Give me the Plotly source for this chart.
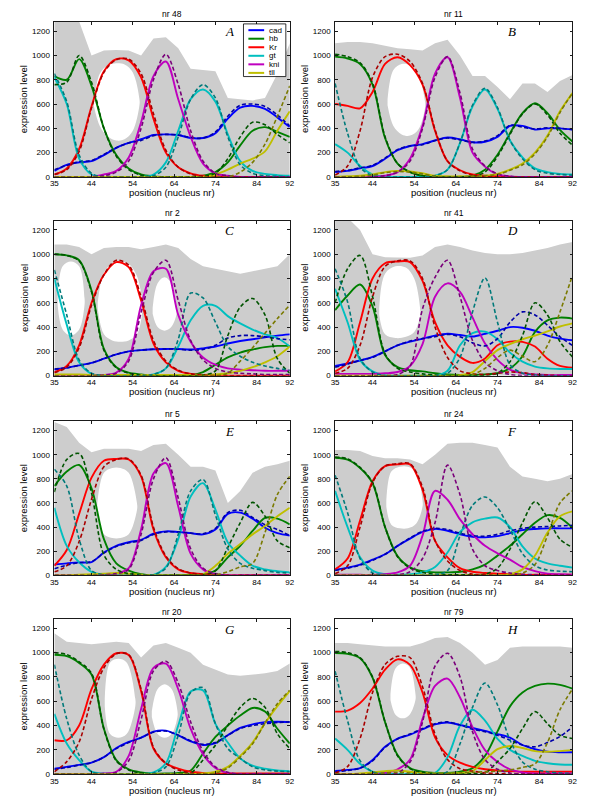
import plotly.graph_objects as go

W, H = 600, 796

# ---------------- shared axes data ----------------
X = [35, 38, 41, 44, 47, 50, 53, 56, 59, 62, 65, 68, 71, 74, 77, 80, 83, 86, 89, 92]
XTICKS = [35, 44, 54, 64, 74, 84, 92]
YTICKS = [0, 200, 400, 600, 800, 1000, 1200]
GENES = ["cad", "hb", "Kr", "gt", "kni", "tll"]
TITLES = ["nr 48", "nr 11", "nr 2", "nr 41", "nr 5", "nr 24", "nr 20", "nr 79"]
LETTERS = ["A", "B", "C", "D", "E", "F", "G", "H"]

# ---------------- panel A (nr 48) ----------------
A_cad = [50, 100, 120, 130, 180, 240, 280, 310, 345, 350, 345, 320, 320, 360, 480, 570, 585, 560, 490, 410]
A_cad_d = [60, 95, 125, 135, 185, 240, 280, 300, 340, 350, 345, 325, 320, 370, 500, 590, 600, 580, 510, 420]
A_hb = [830, 800, 970, 750, 400, 180, 70, 20, 5, 0, 0, 0, 10, 40, 120, 260, 380, 410, 370, 330]
A_hb_d = [760, 780, 1000, 780, 400, 170, 60, 15, 0, 0, 0, 0, 5, 30, 150, 330, 450, 430, 350, 280]
A_Kr = [20, 70, 230, 580, 870, 970, 960, 820, 480, 200, 80, 30, 10, 5, 0, 0, 0, 0, 0, 0]
A_Kr_d = [20, 60, 210, 570, 860, 965, 970, 850, 520, 220, 80, 25, 5, 0, 0, 0, 0, 0, 0, 0]
A_gt = [820, 600, 150, 20, 0, 0, 0, 0, 20, 120, 380, 640, 720, 620, 350, 130, 50, 25, 15, 10]
A_gt_d = [850, 620, 180, 30, 0, 0, 0, 0, 10, 80, 330, 640, 760, 650, 330, 100, 30, 10, 5, 0]
A_kni = [0, 0, 0, 0, 20, 50, 160, 450, 830, 950, 640, 330, 110, 30, 10, 0, 0, 0, 0, 0]
A_kni_d = [0, 0, 0, 0, 10, 40, 130, 400, 800, 1010, 760, 380, 130, 30, 10, 0, 0, 0, 0, 0]
A_tll = [0, 0, 0, 0, 0, 0, 0, 0, 0, 0, 0, 0, 0, 20, 60, 110, 150, 210, 380, 540]
A_tll_d = [0, 0, 0, 0, 0, 0, 0, 0, 0, 0, 0, 0, 0, 0, 0, 40, 120, 270, 500, 750]
ENV_A = [1300, 1300, 1280, 1000, 1040, 1045, 1040, 1000, 1140, 1150, 1060, 890, 880, 870, 650, 640, 630, 650, 850, 1100]
HOLE_A1_X = [44.6, 46, 48, 50, 52, 54, 55.6]
HOLE_A1_HI = [620, 850, 920, 935, 925, 860, 640]
HOLE_A1_LO = [580, 420, 330, 300, 310, 380, 590]

# ---------------- panel B (nr 11) ----------------
B_cad = [40, 50, 70, 90, 150, 220, 255, 270, 300, 325, 310, 285, 290, 330, 420, 420, 390, 400, 400, 390]
B_cad_d = [45, 55, 75, 95, 155, 225, 255, 265, 300, 320, 305, 285, 295, 340, 425, 410, 395, 405, 400, 390]
B_hb = [990, 975, 930, 760, 320, 110, 40, 10, 0, 0, 0, 10, 60, 183, 360, 525, 606, 525, 388, 292]
B_hb_d = [1010, 990, 940, 770, 330, 110, 40, 10, 0, 0, 0, 5, 40, 170, 350, 520, 600, 510, 360, 262]
B_Kr = [600, 585, 565, 700, 930, 985, 920, 760, 380, 130, 55, 20, 10, 5, 0, 0, 0, 0, 0, 0]
B_Kr_d = [15, 90, 380, 820, 990, 1010, 950, 770, 390, 130, 50, 15, 5, 0, 0, 0, 0, 0, 0, 0]
B_gt = [270, 200, 90, 20, 0, 0, 0, 0, 10, 60, 280, 580, 720, 560, 300, 160, 70, 40, 25, 20]
B_gt_d = [770, 360, 80, 10, 0, 0, 0, 0, 10, 60, 280, 590, 730, 570, 300, 150, 60, 30, 20, 15]
B_kni = [0, 0, 0, 0, 10, 40, 150, 420, 850, 985, 650, 200, 85, 20, 5, 0, 0, 0, 0, 0]
B_kni_d = [0, 0, 0, 0, 10, 40, 130, 400, 820, 990, 690, 230, 90, 25, 5, 0, 0, 0, 0, 0]
B_tll = [0, 5, 10, 20, 40, 50, 45, 30, 10, 5, 5, 5, 10, 25, 60, 110, 200, 340, 540, 690]
B_tll_d = [0, 0, 5, 15, 35, 45, 40, 25, 5, 0, 0, 5, 10, 20, 55, 100, 190, 330, 530, 690]
ENV_B = [1100, 1110, 1110, 1100, 1080, 1060, 1050, 1040, 1100, 1130, 1000, 830, 830, 740, 640, 770, 770, 700, 790, 840]
HOLE_B1_X = [47.6, 49, 51, 53, 55, 56.6]
HOLE_B1_HI = [640, 880, 930, 920, 840, 620]
HOLE_B1_LO = [590, 420, 350, 340, 390, 570]

# ---------------- panel C (nr 2) ----------------
C_cad = [50, 65, 85, 105, 140, 175, 200, 210, 218, 220, 220, 215, 225, 240, 265, 285, 300, 315, 330, 340]
C_cad_d = [55, 65, 85, 105, 140, 175, 200, 210, 218, 220, 218, 210, 215, 250, 310, 330, 330, 320, 305, 295]
C_hb = [1000, 990, 950, 700, 220, 70, 25, 10, 0, 0, 0, 5, 30, 90, 150, 190, 215, 235, 245, 245]
C_hb_d = [1000, 990, 945, 690, 210, 65, 20, 5, 0, 0, 0, 0, 5, 40, 330, 565, 635, 500, 140, 20]
C_Kr = [30, 80, 250, 600, 830, 935, 893, 620, 265, 110, 40, 15, 5, 5, 0, 0, 0, 0, 0, 0]
C_Kr_d = [25, 70, 230, 580, 830, 950, 910, 650, 290, 120, 45, 15, 5, 0, 0, 0, 0, 0, 0, 0]
C_gt = [800, 420, 110, 15, 0, 0, 0, 0, 10, 60, 240, 456, 575, 575, 490, 430, 380, 340, 310, 240]
C_gt_d = [870, 500, 130, 20, 0, 0, 0, 0, 10, 60, 300, 680, 640, 440, 240, 160, 110, 80, 60, 45]
C_kni = [0, 0, 0, 0, 5, 25, 140, 580, 860, 880, 500, 280, 150, 90, 60, 50, 45, 40, 40, 40]
C_kni_d = [0, 0, 0, 0, 5, 20, 120, 520, 850, 950, 620, 290, 130, 60, 30, 20, 15, 10, 10, 10]
C_tll = [10, 10, 10, 5, 5, 5, 5, 5, 5, 5, 5, 5, 5, 10, 20, 40, 70, 110, 160, 240]
C_tll_d = [0, 0, 0, 0, 0, 0, 0, 0, 0, 0, 0, 0, 0, 0, 20, 120, 230, 350, 470, 580]
ENV_C = [1080, 1080, 1060, 1000, 1050, 1060, 1060, 1040, 1060, 1080, 1050, 960, 900, 880, 860, 840, 860, 880, 900, 1000]
HOLE_C1_X = [35.8, 37, 39, 41, 42.3]
HOLE_C1_HI = [640, 900, 940, 900, 640]
HOLE_C1_LO = [580, 380, 330, 380, 580]
HOLE_C2_X = [45.5, 47, 49, 51, 53, 55, 56.3]
HOLE_C2_HI = [600, 850, 920, 935, 920, 820, 600]
HOLE_C2_LO = [550, 340, 290, 280, 290, 340, 530]
HOLE_C3_X = [58.8, 60, 61.7, 63.3, 64.6]
HOLE_C3_HI = [560, 760, 810, 760, 560]
HOLE_C3_LO = [510, 400, 370, 400, 510]

# ---------------- panel D (nr 41) ----------------
D_cad = [80, 100, 125, 155, 200, 250, 280, 305, 330, 345, 335, 322, 345, 370, 400, 395, 370, 330, 305, 292]
D_cad_d = [70, 95, 125, 150, 200, 250, 285, 305, 320, 340, 320, 270, 245, 305, 440, 525, 500, 415, 320, 250]
D_hb = [540, 660, 750, 570, 170, 70, 45, 35, 20, 10, 5, 5, 10, 20, 60, 160, 360, 455, 478, 470]
D_hb_d = [600, 880, 990, 650, 180, 60, 30, 15, 5, 0, 0, 0, 5, 20, 115, 330, 600, 500, 280, 155]
D_Kr = [35, 110, 440, 800, 925, 940, 935, 780, 440, 250, 155, 105, 142, 250, 280, 278, 240, 140, 80, 66]
D_Kr_d = [20, 60, 250, 650, 900, 945, 945, 800, 400, 150, 40, 15, 10, 20, 30, 25, 10, 5, 0, 0]
D_gt = [715, 440, 130, 35, 5, 0, 0, 0, 0, 40, 250, 350, 362, 300, 190, 115, 75, 60, 55, 55]
D_gt_d = [880, 607, 142, 30, 0, 0, 0, 0, 0, 20, 150, 525, 805, 440, 90, 20, 5, 0, 0, 0]
D_kni = [15, 15, 15, 15, 20, 30, 80, 260, 650, 760, 690, 480, 265, 130, 50, 20, 10, 5, 5, 5]
D_kni_d = [0, 0, 0, 0, 0, 10, 80, 550, 810, 950, 650, 290, 110, 40, 10, 0, 0, 0, 0, 0]
D_tll = [0, 0, 0, 0, 0, 0, 0, 0, 0, 0, 5, 30, 120, 210, 260, 300, 330, 365, 405, 430]
D_tll_d = [0, 0, 0, 0, 0, 0, 0, 0, 0, 0, 0, 10, 60, 150, 210, 160, 115, 250, 525, 825]
ENV_D = [1300, 1300, 1200, 1000, 975, 975, 970, 990, 1060, 1080, 1060, 1030, 1010, 1000, 1000, 1010, 1030, 1050, 1080, 1100]
HOLE_D1_X = [45.6, 47, 49.5, 52, 54, 55.4]
HOLE_D1_HI = [560, 840, 900, 890, 800, 560]
HOLE_D1_LO = [500, 340, 310, 320, 360, 490]

# ---------------- panel E (nr 5) ----------------
E_cad = [90, 100, 108, 110, 190, 245, 275, 295, 345, 365, 360, 350, 340, 380, 510, 520, 470, 395, 350, 330]
E_cad_d = [55, 85, 105, 115, 185, 240, 270, 290, 340, 360, 360, 350, 345, 390, 520, 540, 480, 420, 380, 330]
E_hb = [740, 860, 915, 722, 300, 100, 40, 10, 0, 0, 0, 5, 10, 40, 150, 245, 368, 477, 470, 423]
E_hb_d = [690, 960, 1010, 682, 170, 50, 15, 5, 0, 0, 0, 0, 5, 40, 232, 436, 605, 491, 286, 229]
E_Kr = [80, 210, 510, 810, 950, 965, 960, 820, 380, 150, 50, 20, 10, 5, 0, 0, 0, 0, 0, 0]
E_Kr_d = [30, 80, 280, 630, 900, 960, 965, 830, 400, 160, 55, 20, 10, 5, 0, 0, 0, 0, 0, 0]
E_gt = [560, 245, 109, 30, 5, 0, 0, 0, 5, 70, 300, 654, 764, 545, 273, 164, 80, 50, 35, 25]
E_gt_d = [880, 740, 300, 40, 5, 0, 0, 0, 5, 60, 340, 700, 795, 500, 220, 100, 60, 40, 25, 20]
E_kni = [0, 0, 0, 0, 5, 15, 60, 380, 845, 930, 570, 180, 50, 10, 0, 0, 0, 0, 0, 0]
E_kni_d = [0, 0, 0, 0, 5, 15, 50, 340, 800, 975, 640, 220, 60, 15, 0, 0, 0, 0, 0, 0]
E_tll = [0, 0, 5, 10, 15, 20, 15, 5, 0, 0, 0, 0, 10, 80, 180, 260, 340, 410, 490, 560]
E_tll_d = [0, 0, 0, 0, 0, 0, 0, 0, 0, 0, 0, 0, 0, 5, 30, 70, 100, 355, 670, 820]
ENV_E = [1270, 1230, 1100, 1020, 1050, 1050, 1050, 1030, 1080, 1090, 1000, 900, 900, 870, 600, 700, 850, 900, 920, 950]
HOLE_E1_X = [45.4, 47, 49, 51, 53, 55]
HOLE_E1_HI = [600, 850, 890, 890, 850, 600]
HOLE_E1_LO = [550, 340, 310, 310, 340, 540]

# ---------------- panel F (nr 24) ----------------
F_cad = [48, 65, 90, 130, 175, 245, 305, 360, 385, 370, 340, 320, 315, 325, 350, 375, 385, 390, 390, 390]
F_cad_d = [40, 60, 85, 125, 175, 245, 310, 365, 390, 380, 350, 330, 325, 340, 370, 390, 400, 405, 410, 415]
F_hb = [975, 960, 890, 764, 400, 160, 68, 35, 25, 25, 30, 50, 90, 164, 245, 341, 436, 499, 477, 395]
F_hb_d = [980, 965, 895, 770, 400, 155, 60, 25, 10, 5, 5, 5, 10, 60, 218, 436, 611, 477, 300, 232]
F_Kr = [50, 140, 455, 780, 905, 920, 920, 709, 286, 150, 60, 30, 20, 15, 10, 5, 5, 5, 5, 5]
F_Kr_d = [15, 80, 400, 770, 905, 925, 925, 730, 290, 120, 40, 10, 5, 0, 0, 0, 0, 0, 0, 0]
F_gt = [700, 400, 150, 40, 10, 5, 10, 25, 70, 190, 360, 440, 470, 480, 400, 240, 140, 100, 80, 65]
F_gt_d = [830, 520, 140, 20, 0, 0, 0, 0, 5, 40, 330, 580, 650, 560, 380, 180, 80, 45, 35, 30]
F_kni = [5, 5, 5, 5, 10, 25, 80, 330, 700, 627, 464, 341, 245, 183, 131, 70, 35, 15, 10, 5]
F_kni_d = [0, 0, 0, 0, 0, 5, 30, 140, 436, 914, 668, 218, 80, 40, 20, 10, 5, 0, 0, 0]
F_tll = [0, 0, 0, 0, 0, 0, 0, 0, 0, 0, 0, 0, 0, 0, 10, 50, 165, 355, 490, 530]
F_tll_d = [0, 0, 0, 0, 0, 0, 0, 0, 0, 0, 0, 0, 0, 0, 0, 20, 90, 330, 600, 700]
ENV_F = [1040, 1040, 1030, 990, 970, 970, 960, 920, 1000, 1090, 1100, 1100, 1080, 1060, 900, 820, 800, 780, 800, 840]
HOLE_F1_X = [47.3, 48.5, 50.5, 52.5, 54.5, 56]
HOLE_F1_HI = [620, 860, 900, 900, 850, 620]
HOLE_F1_LO = [570, 420, 390, 390, 430, 570]

# ---------------- panel G (nr 20) ----------------
G_cad = [45, 60, 76, 95, 140, 215, 265, 300, 350, 358, 320, 270, 240, 255, 320, 380, 410, 428, 432, 428]
G_cad_d = [40, 55, 75, 95, 140, 210, 260, 300, 345, 355, 320, 275, 245, 260, 320, 375, 400, 415, 425, 430]
G_hb = [983, 972, 916, 820, 374, 116, 40, 15, 5, 5, 10, 30, 170, 306, 400, 482, 545, 515, 374, 252]
G_hb_d = [1000, 985, 925, 830, 370, 110, 35, 10, 0, 0, 0, 10, 116, 238, 401, 550, 623, 550, 333, 211]
G_Kr = [279, 279, 401, 699, 902, 995, 980, 685, 211, 89, 45, 20, 10, 5, 5, 5, 5, 5, 5, 5]
G_Kr_d = [20, 103, 265, 618, 875, 991, 983, 700, 220, 90, 35, 10, 0, 0, 0, 0, 0, 0, 0, 0]
G_gt = [496, 252, 116, 20, 5, 0, 0, 0, 15, 90, 400, 680, 690, 414, 260, 130, 70, 45, 30, 25]
G_gt_d = [902, 455, 157, 20, 0, 0, 0, 0, 10, 60, 320, 672, 712, 414, 211, 130, 60, 35, 25, 20]
G_kni = [0, 0, 0, 0, 5, 20, 150, 536, 875, 910, 699, 374, 165, 50, 10, 0, 0, 0, 0, 0]
G_kni_d = [0, 0, 0, 0, 5, 15, 110, 450, 850, 930, 750, 430, 190, 60, 15, 0, 0, 0, 0, 0]
G_tll = [0, 0, 0, 0, 0, 0, 0, 0, 0, 0, 0, 0, 5, 20, 60, 150, 260, 420, 560, 685]
G_tll_d = [0, 0, 0, 0, 0, 0, 0, 0, 0, 0, 0, 0, 0, 10, 50, 140, 250, 420, 580, 690]
ENV_G = [1160, 1090, 1080, 1070, 1080, 1090, 1080, 960, 1060, 1080, 1040, 1000, 900, 860, 820, 810, 820, 830, 850, 910]
HOLE_G1_X = [47.2, 48.5, 50.5, 52.5, 54.6]
HOLE_G1_HI = [620, 920, 950, 920, 620]
HOLE_G1_LO = [560, 330, 300, 330, 560]
HOLE_G2_X = [58.6, 60, 61.7, 63.4, 64.8]
HOLE_G2_HI = [520, 700, 740, 700, 520]
HOLE_G2_LO = [470, 330, 300, 330, 470]

# ---------------- panel H (nr 79) ----------------
H_cad = [27, 35, 50, 116, 225, 293, 325, 370, 410, 425, 405, 380, 355, 330, 300, 240, 205, 185, 180, 180]
H_cad_d = [20, 30, 50, 110, 220, 290, 330, 375, 415, 430, 405, 370, 350, 320, 280, 240, 225, 260, 310, 387]
H_hb = [997, 990, 955, 794, 428, 157, 50, 20, 10, 10, 20, 50, 150, 352, 558, 672, 726, 745, 735, 704]
H_hb_d = [1010, 1000, 960, 800, 430, 150, 45, 15, 5, 0, 0, 5, 10, 103, 211, 374, 515, 414, 320, 293]
H_Kr = [515, 523, 585, 705, 860, 945, 900, 672, 303, 157, 95, 60, 40, 30, 25, 20, 20, 20, 20, 20]
H_Kr_d = [10, 62, 293, 672, 902, 970, 960, 720, 330, 120, 45, 25, 10, 5, 0, 0, 0, 0, 0, 0]
H_gt = [293, 200, 85, 20, 5, 0, 0, 0, 10, 140, 400, 530, 440, 290, 200, 150, 110, 90, 80, 78]
H_gt_d = [848, 440, 110, 20, 0, 0, 0, 0, 0, 20, 250, 550, 750, 570, 280, 100, 40, 20, 10, 5]
H_kni = [0, 0, 0, 0, 10, 40, 120, 455, 726, 786, 631, 387, 198, 100, 40, 15, 5, 5, 5, 5]
H_kni_d = [0, 0, 0, 0, 0, 10, 100, 430, 889, 995, 800, 350, 120, 40, 10, 0, 0, 0, 0, 0]
H_tll = [0, 0, 5, 15, 25, 30, 20, 10, 5, 5, 10, 25, 116, 206, 232, 215, 190, 185, 190, 198]
H_tll_d = [0, 0, 0, 5, 10, 15, 10, 5, 5, 5, 10, 15, 20, 25, 35, 55, 85, 260, 530, 700]
ENV_H = [1080, 1080, 1070, 1060, 1050, 1050, 1050, 1080, 1120, 1130, 1080, 1000, 900, 940, 1040, 1050, 1050, 1050, 1050, 1040]
HOLE_H1_X = [48.3, 49.5, 51.2, 52.9, 54.3]
HOLE_H1_HI = [660, 870, 910, 880, 660]
HOLE_H1_LO = [610, 490, 460, 490, 610]

# ---------------- assemble panel tables ----------------
PANELS = [
    dict(env=ENV_A, holes=[(HOLE_A1_X, HOLE_A1_HI, HOLE_A1_LO)],
         s=[A_cad, A_hb, A_Kr, A_gt, A_kni, A_tll], d=[A_cad_d, A_hb_d, A_Kr_d, A_gt_d, A_kni_d, A_tll_d]),
    dict(env=ENV_B, holes=[(HOLE_B1_X, HOLE_B1_HI, HOLE_B1_LO)],
         s=[B_cad, B_hb, B_Kr, B_gt, B_kni, B_tll], d=[B_cad_d, B_hb_d, B_Kr_d, B_gt_d, B_kni_d, B_tll_d]),
    dict(env=ENV_C, holes=[(HOLE_C1_X, HOLE_C1_HI, HOLE_C1_LO), (HOLE_C2_X, HOLE_C2_HI, HOLE_C2_LO),
                           (HOLE_C3_X, HOLE_C3_HI, HOLE_C3_LO)],
         s=[C_cad, C_hb, C_Kr, C_gt, C_kni, C_tll], d=[C_cad_d, C_hb_d, C_Kr_d, C_gt_d, C_kni_d, C_tll_d]),
    dict(env=ENV_D, holes=[(HOLE_D1_X, HOLE_D1_HI, HOLE_D1_LO)],
         s=[D_cad, D_hb, D_Kr, D_gt, D_kni, D_tll], d=[D_cad_d, D_hb_d, D_Kr_d, D_gt_d, D_kni_d, D_tll_d]),
    dict(env=ENV_E, holes=[(HOLE_E1_X, HOLE_E1_HI, HOLE_E1_LO)],
         s=[E_cad, E_hb, E_Kr, E_gt, E_kni, E_tll], d=[E_cad_d, E_hb_d, E_Kr_d, E_gt_d, E_kni_d, E_tll_d]),
    dict(env=ENV_F, holes=[(HOLE_F1_X, HOLE_F1_HI, HOLE_F1_LO)],
         s=[F_cad, F_hb, F_Kr, F_gt, F_kni, F_tll], d=[F_cad_d, F_hb_d, F_Kr_d, F_gt_d, F_kni_d, F_tll_d]),
    dict(env=ENV_G, holes=[(HOLE_G1_X, HOLE_G1_HI, HOLE_G1_LO), (HOLE_G2_X, HOLE_G2_HI, HOLE_G2_LO)],
         s=[G_cad, G_hb, G_Kr, G_gt, G_kni, G_tll], d=[G_cad_d, G_hb_d, G_Kr_d, G_gt_d, G_kni_d, G_tll_d]),
    dict(env=ENV_H, holes=[(HOLE_H1_X, HOLE_H1_HI, HOLE_H1_LO)],
         s=[H_cad, H_hb, H_Kr, H_gt, H_kni, H_tll], d=[H_cad_d, H_hb_d, H_Kr_d, H_gt_d, H_kni_d, H_tll_d]),
]

SOLID_COLORS = ["#0000FF", "#008000", "#FF0000", "#00BFBF", "#BF00BF", "#BFBF00"]
DASH_COLORS = ["#0000A8", "#005400", "#A80000", "#007A7A", "#7A007A", "#7A7A00"]
GREY = "#cdcdcd"
FONT = "Liberation Sans, Arial, Helvetica, sans-serif"

COL_PX = [(43, 282), (328, 569)]
ROW_PX = [(14, 170), (214, 370), (416, 571), (615, 771)]
YMAX = 1276

fig = go.Figure()
layout = dict(width=W, height=H, margin=dict(l=0, r=0, t=0, b=0),
              paper_bgcolor="white", plot_bgcolor="white", showlegend=False)
annotations = []
shapes = []

for i, p in enumerate(PANELS):
    row, col = i // 2, i % 2
    l, r = COL_PX[col]
    t, b = ROW_PX[row]
    xa = "x" if i == 0 else f"x{i+1}"
    ya = "y" if i == 0 else f"y{i+1}"
    xkey = "xaxis" if i == 0 else f"xaxis{i+1}"
    ykey = "yaxis" if i == 0 else f"yaxis{i+1}"

    # grey band of individual trajectories (envelope)
    fig.add_trace(go.Scatter(x=X, y=p["env"], xaxis=xa, yaxis=ya, mode="lines",
                             line=dict(width=0, color=GREY), fill="tozeroy",
                             fillcolor=GREY, hoverinfo="skip"))
    for hx, hhi, hlo in p["holes"]:
        fig.add_trace(go.Scatter(x=list(hx) + list(hx)[::-1], y=list(hhi) + list(hlo)[::-1],
                                 xaxis=xa, yaxis=ya, mode="lines", fill="toself",
                                 fillcolor="white", line=dict(width=0, color="white", shape="spline"),
                                 hoverinfo="skip"))
    for g, vals in enumerate(p["s"]):
        fig.add_trace(go.Scatter(x=X, y=vals, xaxis=xa, yaxis=ya, mode="lines", name=GENES[g],
                                 line=dict(color=SOLID_COLORS[g], width=1.9, shape="spline", smoothing=0.9)))
    for g, vals in enumerate(p["d"]):
        fig.add_trace(go.Scatter(x=X, y=vals, xaxis=xa, yaxis=ya, mode="lines", name=GENES[g] + " data",
                                 line=dict(color=DASH_COLORS[g], width=1.6, dash="4px,2.5px",
                                           shape="spline", smoothing=0.9)))

    axcommon = dict(showgrid=False, zeroline=False, showline=True, linecolor="#1a1a1a", linewidth=0.8,
                    mirror="ticks", ticks="inside", ticklen=3, tickwidth=0.8, tickcolor="#1a1a1a",
                    tickfont=dict(family=FONT, size=8, color="black"))
    layout[xkey] = dict(domain=[l / W, r / W], range=[35, 92], tickvals=XTICKS,
                        ticktext=[str(v) for v in XTICKS], anchor=ya, ticklabelstandoff=-1,
                        **axcommon)
    layout[ykey] = dict(domain=[1 - b / H, 1 - t / H], range=[0, YMAX], tickvals=YTICKS,
                        ticktext=[str(v) for v in YTICKS], anchor=xa, ticklabelstandoff=2,
                        **axcommon)

    cx = (l + r) / 2 / W
    annotations.append(dict(x=cx, y=1 - (t - 7.5) / H, xref="paper", yref="paper", text=TITLES[i],
                            showarrow=False, xanchor="center", yanchor="middle",
                            font=dict(family=FONT, size=8.5, color="black")))
    annotations.append(dict(x=cx, y=1 - (b + 16) / H, xref="paper", yref="paper",
                            text="position (nucleus nr)", showarrow=False, xanchor="center",
                            yanchor="middle", borderpad=0,
                            font=dict(family=FONT, size=9.5, color="black")))
    annotations.append(dict(x=(l - 31) / W, y=1 - (t + b) / 2 / H, xref="paper", yref="paper",
                            text="expression level", textangle=-90, showarrow=False,
                            xanchor="center", yanchor="middle",
                            font=dict(family=FONT, size=9.5, color="black")))
    annotations.append(dict(x=(l + 0.746 * (r - l)) / W, y=1 - (t + 10) / H, xref="paper", yref="paper",
                            text="<i>" + LETTERS[i] + "</i>", showarrow=False, xanchor="center",
                            yanchor="middle",
                            font=dict(family="Liberation Serif, Times New Roman, serif", size=13,
                                      color="black")))

# legend box in panel A
LEG_L, LEG_R, LEG_T, LEG_B = 235, 278, 16, 69
shapes.append(dict(type="rect", xref="paper", yref="paper", x0=LEG_L / W, x1=LEG_R / W,
                   y0=1 - LEG_B / H, y1=1 - LEG_T / H, line=dict(color="black", width=0.8),
                   fillcolor="white", layer="above"))
for g, name in enumerate(GENES):
    yy = 22.3 + g * 8.6
    shapes.append(dict(type="line", xref="paper", yref="paper", x0=240 / W, x1=256 / W,
                       y0=1 - yy / H, y1=1 - yy / H,
                       line=dict(color=SOLID_COLORS[g], width=2), layer="above"))
    annotations.append(dict(x=259 / W, y=1 - yy / H, xref="paper", yref="paper", text=name,
                            showarrow=False, xanchor="left", yanchor="middle",
                            font=dict(family=FONT, size=8, color="black")))

layout["annotations"] = annotations
layout["shapes"] = shapes
fig.update_layout(**layout)
fig.write_html("out.html")
